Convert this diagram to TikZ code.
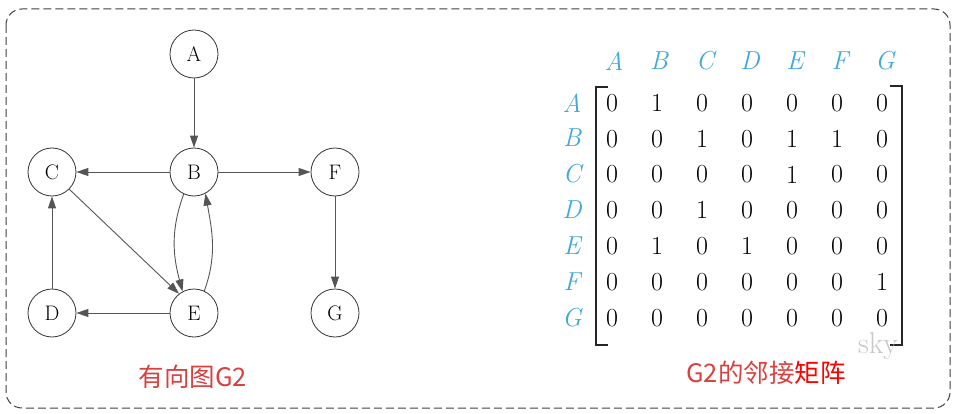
\documentclass[tikz,border=0pt]{standalone}
\usepackage{fontspec}
\newfontfamily\cjk{Noto Sans CJK SC}
\usetikzlibrary{arrows.meta}
\definecolor{hdr}{HTML}{41A9D6}
\definecolor{cap}{HTML}{D9413F}
\definecolor{edge}{HTML}{555555}
\begin{document}
\begin{tikzpicture}[x=1pt,y=-1pt,
  vtx/.style={circle,draw=black!80,line width=0.8pt,minimum size=48pt,inner sep=0pt,font=\fontsize{21}{21}\selectfont},
  arc/.style={draw=edge,line width=0.9pt,-{Triangle[length=12pt,width=8pt]}},
  hd/.style={text=hdr,font=\fontsize{26}{26}\selectfont\itshape},
  ent/.style={font=\fontsize{26}{26}\selectfont},
  brk/.style={draw=black!85,line width=1.6pt},
  captxt/.style={text=cap,font=\fontsize{25.5}{25.5}\selectfont}]
\useasboundingbox (0,0) rectangle (960,414);
\draw[black!75,line width=1pt,dash pattern=on 8pt off 4pt,rounded corners=16pt] (6,9) rectangle (950,408);
% graph
\node[vtx] (A) at (194,54) {A};
\node[vtx] (B) at (194,172) {B};
\node[vtx] (C) at (52,172) {C};
\node[vtx] (F) at (335,172) {F};
\node[vtx] (D) at (52,313) {D};
\node[vtx] (E) at (194,313) {E};
\node[vtx] (G) at (335,313) {G};
\draw[arc] (A) -- (B);
\draw[arc] (B) -- (C);
\draw[arc] (B) -- (F);
\draw[arc] (F) -- (G);
\draw[arc] (D) -- (C);
\draw[arc] (E) -- (D);
\draw[arc] (C.-45) -- (E.128);
\draw[arc] (B.245) to[out=250,in=105] (E.118);
\draw[arc] (E.65) to[out=70,in=280] (B.298);
\node[captxt] (cap1) at (193,377) {\cjk 有向图G2};
% matrix
\foreach \l/\x in {A/614,B/659,C/705,D/750,E/795,F/840,G/885}{
  \node[hd] (h\l) at (\x,61) {\l};}
\foreach \l/\y in {A/103,B/138,C/174,D/210,E/246,F/282,G/318}{
  \node[hd] (r\l) at (572,\y) {\l};}
\foreach \r [count=\i] in {{0,1,0,0,0,0,0},{0,0,1,0,1,1,0},{0,0,0,0,1,0,0},{0,0,1,0,0,0,0},{0,1,0,1,0,0,0},{0,0,0,0,0,0,1},{0,0,0,0,0,0,0}}{
  \foreach \v [count=\j] in \r {
    \pgfmathsetmacro{\xx}{612+45*(\j-1)}
    \pgfmathsetmacro{\yy}{103+35.8*(\i-1)}
    \node[ent,inner sep=1pt] (m\i\j) at (\xx,\yy) {\v};
  }}
\coordinate (lb1) at (608,87); \coordinate (lb2) at (596,87);
\coordinate (lb3) at (596,345); \coordinate (lb4) at (608,345);
\coordinate (rb1) at (890,86); \coordinate (rb2) at (902,86);
\coordinate (rb3) at (902,345); \coordinate (rb4) at (890,345);
\draw[brk] (lb1) -- (lb2) -- (lb3) -- (lb4);
\draw[brk] (rb1) -- (rb2) -- (rb3) -- (rb4);
\node[text=black!22,font=\fontsize{30}{30}\selectfont,inner sep=0pt] (sky) at (878,346) {sky};
\node[captxt] (cap2) at (766,373) {\cjk G2的邻接\textcolor{red}{矩阵}};
\end{tikzpicture}
\end{document}
